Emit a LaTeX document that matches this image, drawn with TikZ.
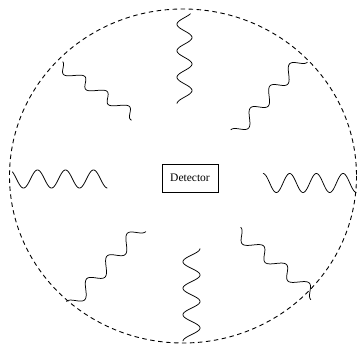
\documentclass[tikz,border=0pt]{standalone}
\usepackage{fontspec}
\setmainfont{Liberation Serif}
\newcommand\stairwave[7]{% x0 y0 h w c t1 t2
  \draw[wig] plot[domain=#6:#7,samples=240] ({#1+(#3)*\x+(#3)*(#5)*sin(360*\x)/(2*pi)},{#2+(#4)*\x-(#4)*(#5)*sin(360*\x)/(2*pi)});}
\tikzset{
  wig/.style={line width=0.75pt, line join=round},
  rim/.style={line width=0.9pt, dash pattern=on 4.5pt off 3.5pt},
  detbox/.style={draw, line width=0.6pt, minimum width=56pt, minimum height=28pt, inner sep=0pt, font=\fontsize{11.5}{13}\selectfont}
}
\begin{document}
\begin{tikzpicture}[x=1pt,y=-1pt]
\useasboundingbox (0,0) rectangle (357,347);
\draw[rim] (183,176) ellipse [x radius=173.5, y radius=167];
\node[detbox] (det) at (190,178) {Detector};
% vertical waves
\draw[wig] plot[domain=0.1:3.5,samples=200] ({184.5+7.5*cos(360*\x)},{11+26.5*\x});
\draw[wig] plot[domain=0:3.5,samples=200] ({191.5+8.5*cos(360*\x)},{248.5+26.5*\x});
% horizontal waves
\draw[wig] plot[domain=0.1:3.5,samples=200] ({9.5+28*\x},{179-9*cos(360*\x)});
\draw[wig] plot[domain=0:3.5,samples=200] ({263+26.7*\x},{183-9.5*cos(360*\x)});
% staircase waves
\stairwave{74.2}{75.5}{22.3}{15}{1.3}{-0.72}{2.78}
\stairwave{298.5}{63}{-19.6}{22}{1.3}{-0.25}{3.25}
\stairwave{136.5}{232.5}{-20.3}{22.7}{1.3}{-0.25}{3.25}
\stairwave{253}{245}{22.8}{18.5}{1.3}{-0.75}{2.75}
\end{tikzpicture}
\end{document}
